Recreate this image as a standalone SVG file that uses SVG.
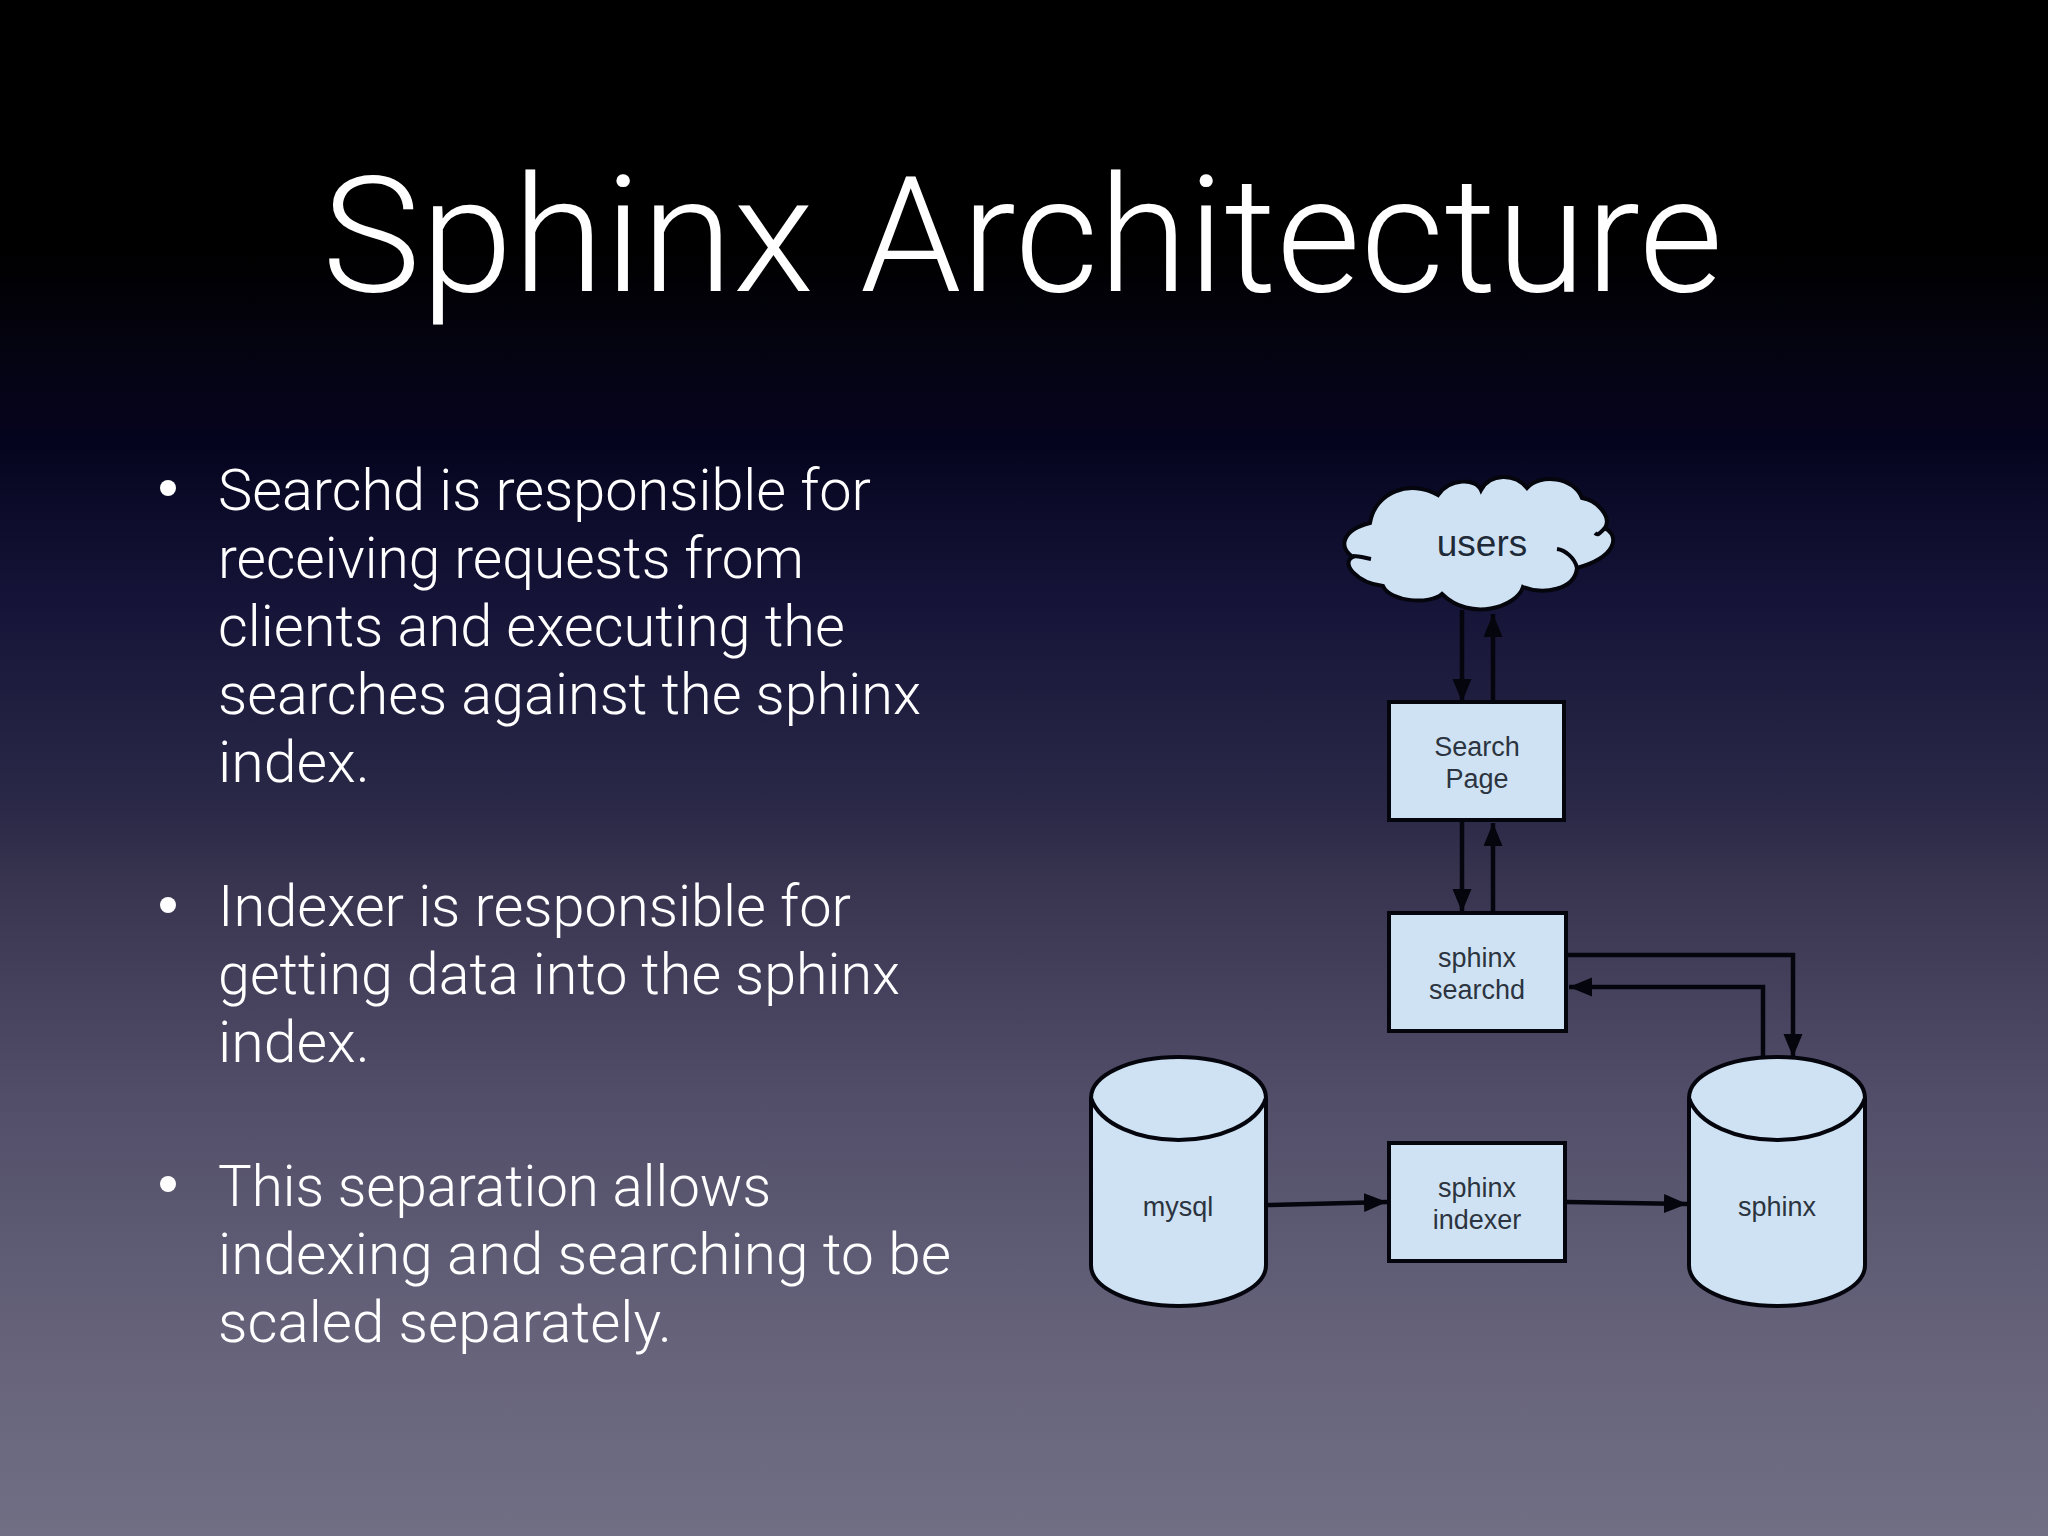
<svg xmlns="http://www.w3.org/2000/svg" width="2048" height="1536" viewBox="0 0 2048 1536">
<defs>
<linearGradient id="bg" x1="0" y1="0" x2="0" y2="1">
<stop offset="0" stop-color="#000"/><stop offset="0.163" stop-color="#000"/><stop offset="0.22" stop-color="#04030f"/><stop offset="0.286" stop-color="#05041e"/><stop offset="0.39" stop-color="#151438"/><stop offset="0.534" stop-color="#2c2a48"/><stop offset="0.573" stop-color="#38344f"/><stop offset="0.716" stop-color="#524e69"/><stop offset="0.872" stop-color="#65627a"/><stop offset="1" stop-color="#716f84"/>
</linearGradient>
<marker id="ah" markerUnits="userSpaceOnUse" markerWidth="24" markerHeight="20" refX="23" refY="9.500" orient="auto"><path d="M0 0L23 9.500L0 19z" fill="#05050d"/></marker>
</defs>
<style>
.t{font-family:"Roboto","Liberation Sans",sans-serif;font-weight:300;fill:#fff}
.b{font-size:58px}
.n{fill:#cfe2f3;stroke:#05050d;stroke-width:4}
.l{font-family:"Liberation Sans",Arial,sans-serif;fill:#2c3440;text-anchor:middle;font-size:27px}
.c{fill:none;stroke:#05050d;stroke-width:4.500}
</style>
<rect width="2048" height="1536" fill="url(#bg)"/>
<text class="t" y="291" font-size="161"><tspan x="322" textLength="492" lengthAdjust="spacingAndGlyphs">Sphinx</tspan> <tspan x="860" textLength="863" lengthAdjust="spacingAndGlyphs">Architecture</tspan></text>
<g id="bullets">
<circle cx="168" cy="488" r="8" fill="#fff"/><circle cx="168" cy="905" r="8" fill="#fff"/><circle cx="168" cy="1184" r="8" fill="#fff"/>
<text class="t b" x="218" y="510" textLength="653" lengthAdjust="spacingAndGlyphs">Searchd is responsible for</text>
<text class="t b" x="218" y="578" textLength="586" lengthAdjust="spacingAndGlyphs">receiving requests from</text>
<text class="t b" x="218" y="646" textLength="627" lengthAdjust="spacingAndGlyphs">clients and executing the</text>
<text class="t b" x="218" y="714" textLength="703" lengthAdjust="spacingAndGlyphs">searches against the sphinx</text>
<text class="t b" x="218" y="782" textLength="152" lengthAdjust="spacingAndGlyphs">index.</text>
<text class="t b" x="218" y="926" textLength="633" lengthAdjust="spacingAndGlyphs">Indexer is responsible for</text>
<text class="t b" x="218" y="994" textLength="682" lengthAdjust="spacingAndGlyphs">getting data into the sphinx</text>
<text class="t b" x="218" y="1062" textLength="152" lengthAdjust="spacingAndGlyphs">index.</text>
<text class="t b" x="218" y="1206" textLength="553" lengthAdjust="spacingAndGlyphs">This separation allows</text>
<text class="t b" x="218" y="1274" textLength="733" lengthAdjust="spacingAndGlyphs">indexing and searching to be</text>
<text class="t b" x="218" y="1342" textLength="454" lengthAdjust="spacingAndGlyphs">scaled separately.</text>
</g>
<g id="users">
<path class="n" d="M1370 523C1375 492 1410 479 1438 495C1450 478 1476 478 1481 490C1490 473 1515 473 1527 488C1540 473 1574 477 1582 498C1597 500 1612 517 1605 528C1620 537 1616 557 1577 568C1575 590 1543 595 1523 587C1517 607 1470 622 1442 594C1430 605 1390 602 1383 586C1357 583 1340 563 1353 557C1338 547 1342 530 1370 523Z"/>
<path class="c" style="stroke-width:4" d="M1605 528C1600 533 1598 536 1595 533M1577 568C1575 558 1565 550 1557 549M1353 556C1360 556 1365 558 1371 559"/>
<text class="l" x="1482" y="556" style="font-size:37px;fill:#1f2a38">users</text>
</g>
<g id="search-page"><rect class="n" x="1389" y="702" width="175" height="118"/><text class="l" x="1477" y="756">Search</text><text class="l" x="1477" y="788">Page</text></g>
<g id="searchd"><rect class="n" x="1389" y="913" width="177" height="118"/><text class="l" x="1477" y="967">sphinx</text><text class="l" x="1477" y="999">searchd</text></g>
<g id="indexer"><rect class="n" x="1389" y="1143" width="176" height="118"/><text class="l" x="1477" y="1197">sphinx</text><text class="l" x="1477" y="1229">indexer</text></g>
<g id="mysql"><path class="n" d="M1091 1098V1265C1091 1288 1130 1306 1178.500 1306S1266 1288 1266 1265V1098C1266 1075 1227 1057 1178.500 1057S1091 1075 1091 1098C1100 1125 1140 1140 1178.500 1140S1257 1125 1266 1098"/><text class="l" x="1178" y="1216">mysql</text></g>
<g id="sphinx"><path class="n" d="M1689 1098V1265C1689 1288 1728 1306 1777 1306S1865 1288 1865 1265V1098C1865 1075 1826 1057 1777 1057S1689 1075 1689 1098C1698 1125 1738 1140 1777 1140S1856 1125 1865 1098"/><text class="l" x="1777" y="1216">sphinx</text></g>
<g id="connectors">
<path class="c" marker-end="url(#ah)" d="M1462 610V702"/>
<path class="c" marker-end="url(#ah)" d="M1493 702V614"/>
<path class="c" marker-end="url(#ah)" d="M1462 820V912"/>
<path class="c" marker-end="url(#ah)" d="M1493 913V823"/>
<path class="c" marker-end="url(#ah)" d="M1567 955H1793V1057"/>
<path class="c" marker-end="url(#ah)" d="M1763 1057V987H1569"/>
<path class="c" marker-end="url(#ah)" d="M1268 1205L1387 1202"/>
<path class="c" marker-end="url(#ah)" d="M1567 1202L1687 1204"/>
</g>
</svg>
